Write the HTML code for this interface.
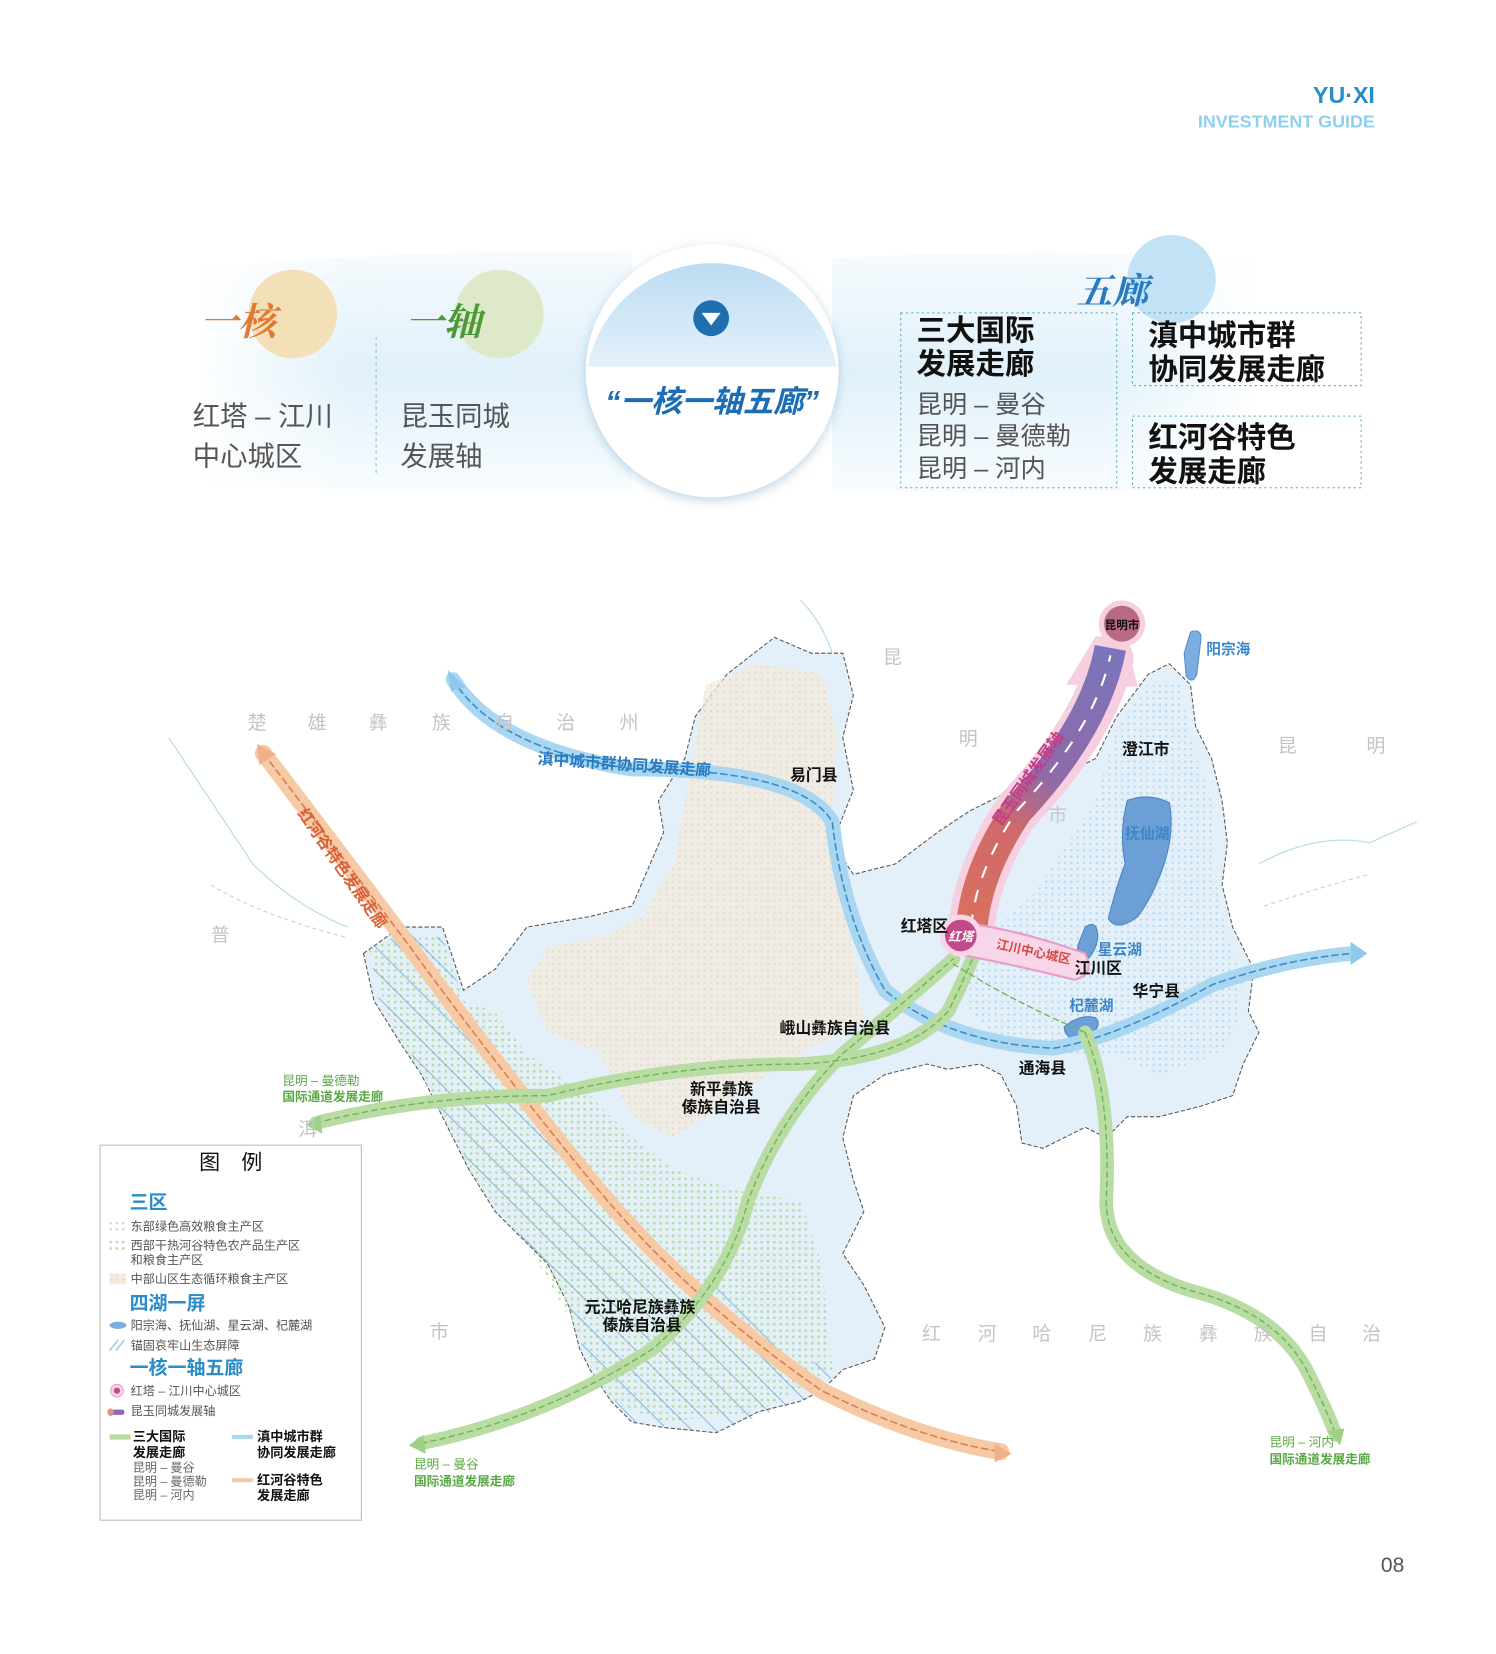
<!DOCTYPE html>
<html><head><meta charset="utf-8"><style>
html,body{margin:0;padding:0;background:#fff;}
svg{display:block;font-family:"Liberation Sans","Noto Sans CJK SC",sans-serif;}
</style></head><body>
<svg width="1496" height="1654" viewBox="0 0 1420 1570" xmlns="http://www.w3.org/2000/svg">
<defs>
<linearGradient id="band" x1="0" y1="0" x2="0" y2="1">
<stop offset="0" stop-color="#f3f9fd"/><stop offset="0.5" stop-color="#d9edf9"/><stop offset="1" stop-color="#f6fbfe"/></linearGradient>
<linearGradient id="bandL" x1="0" y1="0" x2="1" y2="0">
<stop offset="0" stop-color="#fff" stop-opacity="1"/><stop offset="0.15" stop-color="#fff" stop-opacity="0"/><stop offset="0.85" stop-color="#fff" stop-opacity="0"/><stop offset="1" stop-color="#fff" stop-opacity="1"/></linearGradient>
<linearGradient id="cap" x1="0" y1="0" x2="0" y2="1">
<stop offset="0" stop-color="#bcdcf2"/><stop offset="1" stop-color="#e3f1fb"/></linearGradient>
<linearGradient id="axis" gradientUnits="userSpaceOnUse" x1="920" y1="885" x2="1055" y2="615">
<stop offset="0" stop-color="#d9705e"/><stop offset="0.35" stop-color="#d06a6a"/><stop offset="0.55" stop-color="#8e6aa8"/><stop offset="1" stop-color="#7a75bb"/></linearGradient>
<pattern id="pBlue" width="6" height="6" patternUnits="userSpaceOnUse"><circle cx="3" cy="3" r="1.1" fill="#b5d6ef"/></pattern>
<pattern id="pBeige" width="6" height="6" patternUnits="userSpaceOnUse"><rect width="6" height="6" fill="#f2ebe0"/><circle cx="3" cy="3" r="1.1" fill="#e9d2bb"/></pattern>
<pattern id="pGreen" width="6" height="6" patternUnits="userSpaceOnUse"><circle cx="3" cy="3" r="1.3" fill="#b8dca2"/></pattern>
<pattern id="hatch" width="16" height="16" patternUnits="userSpaceOnUse" patternTransform="rotate(-45)"><line x1="0" y1="0" x2="0" y2="16" stroke="#4a94d2" stroke-width="1.4"/></pattern>
<filter id="sh" x="-20%" y="-20%" width="140%" height="140%"><feDropShadow dx="0" dy="3" stdDeviation="5" flood-color="#7aa9c8" flood-opacity="0.5"/></filter>
</defs>

<text x="1305" y="98" text-anchor="end" font-size="22" font-weight="bold" fill="#2a8cc8">YU·XI</text>
<text x="1305" y="121" text-anchor="end" font-size="17" font-weight="bold" fill="#8fd0ee">INVESTMENT GUIDE</text>

<path d="M190 255 Q400 235 600 240 L600 465 Q400 470 190 458 Z" fill="url(#band)" opacity="0.8"/>
<path d="M790 245 Q1000 235 1190 245 L1190 460 Q1000 472 790 465 Z" fill="url(#band)" opacity="0.8"/>
<rect x="180" y="230" width="1020" height="250" fill="url(#bandL)"/>
<circle cx="278" cy="298" r="42" fill="#f3dfb8"/>
<circle cx="474" cy="298" r="42" fill="#dde9c8"/>
<circle cx="1112" cy="265" r="42" fill="#c4e2f6"/>
<text x="190" y="318" font-size="36" font-weight="bold" font-style="italic" fill="#e07a30" font-family="Liberation Serif, Noto Serif CJK SC, serif">一核</text>
<text x="385" y="318" font-size="36" font-weight="bold" font-style="italic" fill="#4a9a3a" font-family="Liberation Serif, Noto Serif CJK SC, serif">一轴</text>
<text x="183" y="404" font-size="26" fill="#555">红塔 – 江川</text>
<text x="183" y="442" font-size="26" fill="#555">中心城区</text>
<line x1="357" y1="320" x2="357" y2="452" stroke="#9bb" stroke-dasharray="3,3"/>
<text x="380" y="404" font-size="26" fill="#555">昆玉同城</text>
<text x="380" y="442" font-size="26" fill="#555">发展轴</text>
<circle cx="676" cy="352" r="120" fill="#fff" filter="url(#sh)"/>
<path d="M558 348 A120 120 0 0 1 794 348 Z" fill="url(#cap)"/>
<circle cx="675" cy="302" r="17" fill="#1f6fb0"/>
<path d="M666 297 L684 297 L675 309 Z" fill="#fff"/>
<text x="676" y="391" text-anchor="middle" font-size="29" font-weight="bold" font-style="italic" fill="#1d6db5">“一核一轴五廊”</text>
<text x="1022" y="288" font-size="34" font-weight="bold" font-style="italic" fill="#2a7ac0" font-family="Liberation Serif, Noto Serif CJK SC, serif">五廊</text>
<g fill="none" stroke="#5aa6b8" stroke-dasharray="2,3"><rect x="855" y="297" width="205" height="166"/><rect x="1075" y="297" width="217" height="69"/><rect x="1075" y="395" width="217" height="68"/></g>
<text x="870" y="323" font-size="28" font-weight="bold" fill="#111">三大国际</text>
<text x="870" y="355" font-size="28" font-weight="bold" fill="#111">发展走廊</text>
<text x="870" y="392" font-size="24" fill="#555">昆明 – 曼谷</text>
<text x="870" y="422" font-size="24" fill="#555">昆明 – 曼德勒</text>
<text x="870" y="453" font-size="24" fill="#555">昆明 – 河内</text>
<text x="1090" y="328" font-size="28" font-weight="bold" fill="#111">滇中城市群</text>
<text x="1090" y="360" font-size="28" font-weight="bold" fill="#111">协同发展走廊</text>
<text x="1090" y="425" font-size="28" font-weight="bold" fill="#111">红河谷特色</text>
<text x="1090" y="457" font-size="28" font-weight="bold" fill="#111">发展走廊</text>

<g fill="none" stroke="#9fcfe0" stroke-width="1.2" opacity="0.7">
<path d="M160 700 Q200 760 240 820 Q280 860 330 880"/>
<path d="M1195 820 Q1250 790 1300 800 L1345 780"/>
<path d="M760 570 Q780 590 790 620"/>
</g>
<g fill="none" stroke="#ccc" stroke-width="1" stroke-dasharray="4,3">
<path d="M200 840 Q250 870 330 890"/>
<path d="M1200 860 Q1260 840 1300 830"/>
</g>

<path d="M345 905 L380 880 L420 880 L440 940 L470 920 L500 880 L560 870 L600 860 L630 790 L625 760 L650 720 L660 680 L690 640 L735 605 L770 620 L800 620 L810 660 L800 700 L810 750 L790 800 L810 830 L850 820 L890 790 L920 770 L960 750 L1000 740 L1040 720 L1060 680 L1090 640 L1110 630 L1130 650 L1135 690 L1150 720 L1160 760 L1165 800 L1160 840 L1170 880 L1190 920 L1185 960 L1195 980 L1180 1010 L1170 1040 L1140 1050 L1100 1060 L1070 1060 L1050 1080 L1030 1070 L1010 1080 L990 1090 L970 1085 L965 1050 L950 1020 L930 1010 L900 1015 L880 1010 L840 1020 L810 1040 L800 1080 L810 1120 L820 1150 L800 1190 L820 1220 L840 1260 L830 1290 L800 1300 L780 1320 L760 1330 L720 1340 L680 1360 L630 1355 L600 1350 L580 1330 L560 1300 L550 1280 L540 1240 L520 1200 L500 1180 L470 1150 L445 1110 L420 1060 L400 1020 L380 990 L355 950 Z" fill="#e4f0f9" stroke="#555" stroke-width="1" stroke-dasharray="4,2"/>
<path d="M920 900 L980 850 L1040 760 L1060 690 L1090 650 L1120 650 L1130 700 L1150 760 L1155 840 L1165 890 L1180 930 L1175 970 L1160 1000 L1100 1020 L1060 1000 L1000 1000 L950 990 L920 960 Z" fill="url(#pBlue)"/>
<path d="M670 650 L720 630 L780 640 L795 700 L790 780 L800 850 L815 930 L820 970 L760 1000 L700 1040 L640 1080 L600 1060 L570 1000 L520 980 L500 930 L520 900 L570 890 L610 870 L640 820 L650 760 Z" fill="url(#pBeige)" opacity="0.75"/>
<path d="M350 900 L385 885 L420 890 L440 950 L470 960 L500 1000 L560 1040 L600 1080 L640 1110 L700 1130 L760 1140 L780 1200 L790 1300 L720 1340 L630 1350 L580 1330 L540 1250 L500 1180 L450 1120 L410 1040 L370 970 Z" fill="url(#pGreen)"/>
<path d="M350 900 L385 885 L420 890 L440 950 L470 1000 L500 1060 L560 1120 L620 1170 L690 1230 L760 1290 L800 1300 L760 1330 L680 1360 L600 1350 L560 1300 L540 1240 L500 1180 L460 1130 L420 1060 L390 1000 L360 950 Z" fill="url(#hatch)" opacity="0.85"/>

<path d="M1130 600 Q1140 596 1140 606 L1136 640 Q1132 650 1126 642 L1124 620 Z" fill="#7baee0" stroke="#5a8ec8"/>
<path d="M1070 760 Q1090 752 1110 762 Q1115 790 1105 820 Q1095 850 1080 870 Q1060 885 1052 872 Q1060 840 1068 820 Q1062 790 1070 760 Z" fill="#6c9fd6" stroke="#4d84c0"/>
<path d="M1030 880 Q1042 872 1042 890 Q1040 905 1030 912 Q1020 905 1024 895 Z" fill="#6c9fd6" stroke="#4d84c0"/>
<path d="M1010 975 Q1025 962 1040 966 Q1048 975 1030 985 Q1012 990 1010 975 Z" fill="#6c9fd6" stroke="#4d84c0"/>

<g fill="none" stroke-linecap="round" stroke-linejoin="round">
<path d="M430 645 Q470 710 600 730 Q760 730 790 780 Q800 870 840 940 Q900 990 1000 995 Q1060 985 1150 935 Q1220 910 1285 905" stroke="#a9d7f1" stroke-width="14"/>
<path d="M430 645 Q470 710 600 730 Q760 730 790 780 Q800 870 840 940 Q900 990 1000 995 Q1060 985 1150 935 Q1220 910 1285 905" stroke="#3b8cc8" stroke-width="1.5" stroke-dasharray="6,4"/>
<path d="M250 715 Q330 820 390 900 Q470 1010 560 1120 Q650 1230 780 1320 Q870 1365 950 1378" stroke="#f7caa6" stroke-width="16"/>
<path d="M250 715 Q330 820 390 900 Q470 1010 560 1120 Q650 1230 780 1320 Q870 1365 950 1378" stroke="#e07a50" stroke-width="1.5" stroke-dasharray="6,4"/>
<g stroke="#b8dca2" stroke-width="13">
<path d="M300 1066 Q400 1040 520 1040 Q640 1010 760 1010 Q860 1005 900 960 Q915 930 925 905"/>
<path d="M400 1370 Q520 1345 620 1280 Q690 1220 710 1140 Q740 1060 800 1000 Q860 950 905 910"/>
<path d="M1030 980 Q1055 1040 1050 1140 Q1050 1200 1130 1225 Q1210 1245 1240 1300 Q1260 1340 1268 1362"/>
</g>
<g stroke="#6fb35a" stroke-width="1.3" stroke-dasharray="5,4">
<path d="M300 1066 Q400 1040 520 1040 Q640 1010 760 1010 Q860 1005 900 960 Q915 930 925 905"/>
<path d="M400 1370 Q520 1345 620 1280 Q690 1220 710 1140 Q740 1060 800 1000 Q860 950 905 910"/>
<path d="M1030 980 Q1055 1040 1050 1140 Q1050 1200 1130 1225 Q1210 1245 1240 1300 Q1260 1340 1268 1362"/>
<path d="M905 915 Q960 950 1030 980"/>
</g>
</g>
<path d="M425 636 L442 652 L428 656 Z" fill="#8ec9ec"/>
<path d="M1298 905 L1282 894 L1282 916 Z" fill="#8ec9ec"/>
<path d="M244 706 L262 716 L246 726 Z" fill="#f2b08a"/>
<path d="M960 1380 L944 1370 L944 1388 Z" fill="#f2b08a"/>
<path d="M290 1068 L304 1058 L306 1076 Z" fill="#9ed088"/>
<path d="M388 1372 L402 1362 L404 1380 Z" fill="#9ed088"/>
<path d="M1272 1372 L1260 1358 L1276 1356 Z" fill="#9ed088"/>

<!-- axis -->
<path d="M1012 650 L1040 604 L1068 604 L1080 652 Z" fill="#f6cfe0"/>
<path d="M922 885 Q925 830 965 770 Q1040 690 1054 625" fill="none" stroke="#f6cfe0" stroke-width="44" stroke-linecap="round"/>
<path d="M922 885 Q925 830 965 770 Q1040 690 1054 615" fill="none" stroke="url(#axis)" stroke-width="30"/>
<path d="M922 880 Q925 830 965 770 Q1040 690 1054 622" fill="none" stroke="#fff" stroke-width="2" stroke-dasharray="12,12"/>
<circle cx="1065" cy="592" r="22" fill="#f6cfe0"/>
<circle cx="1065" cy="592" r="17" fill="#b86a84"/>
<text x="1065" y="597" text-anchor="middle" font-size="11" font-weight="bold" fill="#111">昆明市</text>
<text transform="translate(950,785) rotate(-55)" font-size="15" font-weight="bold" fill="#c23c8a">昆玉同城发展轴</text>
<path d="M905 875 Q960 880 1030 905 Q1040 925 1020 930 Q960 915 905 905 Z" fill="#f7d6e9" stroke="#e89cc6" stroke-width="2"/>
<circle cx="912" cy="888" r="20" fill="#f7d6e9"/>
<circle cx="912" cy="888" r="15" fill="#c24a8a"/>
<text x="912" y="893" text-anchor="middle" font-size="12" font-weight="bold" font-style="italic" fill="#fff">红塔</text>
<text transform="translate(945,900) rotate(12)" font-size="12" font-weight="bold" fill="#d24a40">江川中心城区</text>

<g fill="#c4c4c4" font-size="18">
<text x="235" y="692">楚</text><text x="292" y="692">雄</text><text x="350" y="692">彝</text><text x="410" y="692">族</text><text x="470" y="692">自</text><text x="528" y="692">治</text><text x="588" y="692">州</text>
<text x="838" y="630">昆</text><text x="910" y="707">明</text><text x="995" y="780">市</text>
<text x="1213" y="714">昆</text><text x="1297" y="714">明</text>
<text x="200" y="893">普</text><text x="283" y="1078">洱</text><text x="408" y="1270">市</text>
<text x="875" y="1272">红</text><text x="928" y="1272">河</text><text x="980" y="1272">哈</text><text x="1033" y="1272">尼</text><text x="1085" y="1272">族</text><text x="1138" y="1272">彝</text><text x="1190" y="1272">族</text><text x="1242" y="1272">自</text><text x="1293" y="1272">治</text>
</g>
<g font-size="15" font-weight="bold" fill="#111">
<text x="750" y="741">易门县</text><text x="1065" y="716">澄江市</text><text x="855" y="884">红塔区</text>
<text x="1020" y="924">江川区</text><text x="1075" y="946">华宁县</text><text x="740" y="981">峨山彝族自治县</text>
<text x="967" y="1019">通海县</text><text x="655" y="1039">新平彝族</text><text x="647" y="1056">傣族自治县</text>
<text x="555" y="1246">元江哈尼族彝族</text><text x="572" y="1263">傣族自治县</text>
</g>
<g font-size="14" font-weight="bold" fill="#3a86c8">
<text x="1145" y="621">阳宗海</text><text x="1068" y="796">抚仙湖</text><text x="1042" y="906">星云湖</text><text x="1015" y="959">杞麓湖</text>
</g>
<text transform="translate(510,725) rotate(4)" font-size="15" font-weight="bold" fill="#2a7ac0">滇中城市群协同发展走廊</text>
<text transform="translate(282,772) rotate(55)" font-size="15" font-weight="bold" fill="#d9603a">红河谷特色发展走廊</text>
<g font-size="12" fill="#5aa845">
<text x="268" y="1030">昆明 – 曼德勒</text><text x="268" y="1045" font-weight="bold">国际通道发展走廊</text>
<text x="393" y="1394">昆明 – 曼谷</text><text x="393" y="1410" font-weight="bold">国际通道发展走廊</text>
<text x="1205" y="1373">昆明 – 河内</text><text x="1205" y="1389" font-weight="bold">国际通道发展走廊</text>
</g>

<rect x="95" y="1087" width="248" height="356" fill="#fff" stroke="#bbb"/>
<text x="219" y="1110" text-anchor="middle" font-size="20" fill="#111">图　例</text>
<g font-size="11.5" fill="#555">
<text x="123" y="1147" font-size="18" font-weight="bold" fill="#2a8cc8">三区</text>
<rect x="104" y="1159" width="16" height="10" fill="url(#pBlue)"/><text x="124" y="1168">东部绿色高效粮食主产区</text>
<rect x="104" y="1177" width="16" height="10" fill="url(#pGreen)"/><text x="124" y="1186">西部干热河谷特色农产品生产区</text>
<text x="124" y="1200">和粮食主产区</text>
<rect x="104" y="1209" width="16" height="10" fill="url(#pBeige)"/><text x="124" y="1218">中部山区生态循环粮食主产区</text>
<text x="123" y="1243" font-size="18" font-weight="bold" fill="#2a8cc8">四湖一屏</text>
<ellipse cx="112" cy="1258" rx="8" ry="3.5" fill="#7baee0"/><text x="124" y="1262">阳宗海、抚仙湖、星云湖、杞麓湖</text>
<path d="M104 1282 L112 1272 M110 1282 L118 1272" stroke="#9bc3e0" stroke-width="1.3"/><text x="124" y="1281">锚固哀牢山生态屏障</text>
<text x="123" y="1304" font-size="18" font-weight="bold" fill="#2a8cc8">一核一轴五廊</text>
<circle cx="111" cy="1320" r="6" fill="#f7d6e9" stroke="#e89cc6"/><circle cx="111" cy="1320" r="3" fill="#c24a8a"/><text x="124" y="1324">红塔 – 江川中心城区</text>
<rect x="104" y="1338" width="14" height="5" rx="2" fill="#8a6ab0"/><rect x="102" y="1337" width="6" height="7" rx="3" fill="#e88c8c"/><text x="124" y="1343">昆玉同城发展轴</text>
</g>
<g font-size="12.5" font-weight="bold" fill="#111">
<line x1="104" y1="1364" x2="124" y2="1364" stroke="#b8dca2" stroke-width="5"/>
<text x="126" y="1368">三大国际</text><text x="126" y="1383">发展走廊</text>
<line x1="220" y1="1364" x2="240" y2="1364" stroke="#a9d7f1" stroke-width="4"/>
<text x="244" y="1368">滇中城市群</text><text x="244" y="1383">协同发展走廊</text>
<line x1="220" y1="1405" x2="240" y2="1405" stroke="#f7caa6" stroke-width="4"/>
<text x="244" y="1409">红河谷特色</text><text x="244" y="1424">发展走廊</text>
</g>
<g font-size="11.5" fill="#666">
<text x="126" y="1397">昆明 – 曼谷</text><text x="126" y="1410">昆明 – 曼德勒</text><text x="126" y="1423">昆明 – 河内</text>
</g>

<text x="1333" y="1492" text-anchor="end" font-size="20" fill="#555">08</text>
</svg>
</body></html>
